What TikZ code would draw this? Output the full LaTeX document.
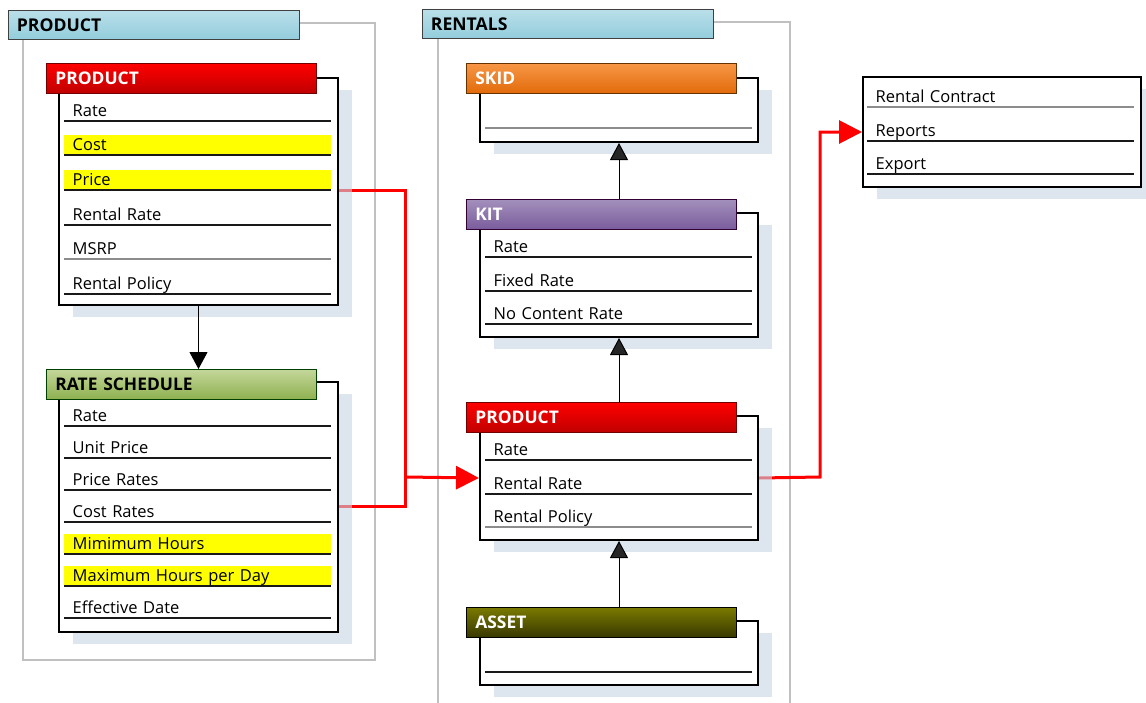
\documentclass[tikz,border=0pt]{standalone}
\usepackage{fontspec}
\setmainfont{Open Sans}
\usetikzlibrary{arrows.meta,shadows,calc}

\definecolor{grpTop}{HTML}{B9DFE9}
\definecolor{grpBot}{HTML}{93CDDC}
\definecolor{frameGray}{HTML}{C0C0C0}
\definecolor{shadowBlue}{HTML}{C6D4E4}
\definecolor{hlYellow}{HTML}{FFFF00}
\definecolor{redTop}{HTML}{FF0000}
\definecolor{redBot}{HTML}{C00000}
\definecolor{greenTop}{HTML}{C4D79B}
\definecolor{greenBot}{HTML}{8EB04F}
\definecolor{orangeTop}{HTML}{F79646}
\definecolor{orangeBot}{HTML}{E26B0A}
\definecolor{purpleTop}{HTML}{A390BC}
\definecolor{purpleBot}{HTML}{7A5C9C}
\definecolor{oliveTop}{HTML}{7A7A00}
\definecolor{oliveBot}{HTML}{383800}
\definecolor{relRed}{HTML}{FF0000}

\pgfdeclarelayer{background}
\pgfsetlayers{background,main}

\begin{document}
\begin{tikzpicture}[x=1pt, y=-1pt,
    every node/.style={font=\fontsize{16.5}{19}\selectfont, inner sep=0pt},
    grpframe/.style={draw=frameGray, line width=1.6pt},
    grphead/.style={draw=black!75, line width=0.8pt, top color=grpTop, bottom color=grpBot, anchor=north west,
      minimum height=29pt, text width=274pt, inner xsep=8.5pt, text height=12.5pt, text depth=0pt,
      font=\fontsize{17.6}{20}\selectfont\bfseries},
    enthead/.style n args={3}{draw=#3, line width=0.8pt, top color=#1, bottom color=#2, anchor=north west,
      minimum height=30pt, text width=252pt, inner xsep=9pt, text height=12.5pt, text depth=0pt, text=white,
      font=\fontsize{17.4}{20}\selectfont\bfseries},
    entbody/.style={draw=black, line width=2pt, fill=white, anchor=north west,
      drop shadow={fill=shadowBlue, opacity=0.6, shadow xshift=14pt, shadow yshift=-12pt}},
    rowbase/.style={anchor=south west, text width=250pt, inner xsep=8.5pt, inner ysep=2.5pt,
      text height=13pt, text depth=2pt},
    row/.style={rowbase, append after command={(\tikzlastnode.south west) edge[rowline] (\tikzlastnode.south east)}},
    rowgray/.style={rowbase, append after command={(\tikzlastnode.south west) edge[rowline, draw=black!45] (\tikzlastnode.south east)}},
    rowline/.style={draw=black!90, line width=1.1pt},
    hilite/.style={fill=hlYellow},
    isa/.style={line width=1pt, -{Triangle[width=18pt, length=17pt, fill=black!85]}},
    flow/.style={line width=1pt, -{Triangle[width=18pt, length=17pt]}},
    relation/.style={draw=relRed, line width=3pt},
    relarrow/.style={relation, -{Triangle[width=23pt, length=23pt]}}]

    \useasboundingbox (0,0) rectangle (1146,702);

    % Group: PRODUCT
    \node[grphead] (grpProduct) at (8,10) {PRODUCT};

    % PRODUCT entity
    \node[entbody, minimum width=279pt, minimum height=227pt] (prodBody) at (58,77) {};
    \node[enthead={redTop}{redBot}{red!45!black}] (prodHead) at (46,63) {PRODUCT};
    \node[row] (prodRate) at (64,121) {Rate};
    \node[row, hilite] (prodCost) at (64,155) {Cost};
    \node[row, hilite] (prodPrice) at (64,190) {Price};
    \node[row] (prodRentalRate) at (64,225) {Rental Rate};
    \node[rowgray] (prodMSRP) at (64,259) {MSRP};
    \node[row] (prodPolicy) at (64,294) {Rental Policy};

    % RATE SCHEDULE entity
    \node[entbody, minimum width=279pt, minimum height=250pt] (rsBody) at (58,381) {};
    \node[enthead={greenTop}{greenBot}{green!25!black}, text=black] (rsHead) at (46,369) {RATE SCHEDULE};
    \node[row] (rsRate) at (64,426) {Rate};
    \node[row] (rsUnitPrice) at (64,458) {Unit Price};
    \node[row] (rsPriceRates) at (64,490) {Price Rates};
    \node[row] (rsCostRates) at (64,522) {Cost Rates};
    \node[row, hilite] (rsMinHours) at (64,554) {Mimimum Hours};
    \node[row, hilite] (rsMaxHours) at (64,586) {Maximum Hours per Day};
    \node[row] (rsEffDate) at (64,618) {Effective Date};

    \draw[flow] (prodBody.south) -- (prodBody.south |- rsHead.north);

    % Group: RENTALS
    \node[grphead] (grpRentals) at (422,9) {RENTALS};

    % SKID entity
    \node[entbody, minimum width=278pt, minimum height=64pt] (skidBody) at (479,77) {};
    \node[enthead={orangeTop}{orangeBot}{orange!40!black}] (skidHead) at (466,63) {SKID};
    \node[rowgray] (skidRow) at (485,128) {};

    % KIT entity
    \node[entbody, minimum width=278pt, minimum height=124pt] (kitBody) at (479,212) {};
    \node[enthead={purpleTop}{purpleBot}{violet!40!black}] (kitHead) at (466,199) {KIT};
    \node[row] (kitRate) at (485,257) {Rate};
    \node[row] (kitFixed) at (485,291) {Fixed Rate};
    \node[row] (kitNoContent) at (485,324) {No Content Rate};

    % PRODUCT entity (rentals)
    \node[entbody, minimum width=278pt, minimum height=124pt] (rprodBody) at (479,415) {};
    \node[enthead={redTop}{redBot}{red!45!black}] (rprodHead) at (466,402) {PRODUCT};
    \node[row] (rprodRate) at (485,460) {Rate};
    \node[row] (rprodRentalRate) at (485,494) {Rental Rate};
    \node[rowgray] (rprodPolicy) at (485,527) {Rental Policy};

    % ASSET entity
    \node[entbody, minimum width=278pt, minimum height=64pt] (assetBody) at (479,620) {};
    \node[enthead={oliveTop}{oliveBot}{black}] (assetHead) at (466,607) {ASSET};
    \node[row] (assetRow) at (485,672) {};

    % inheritance
    \draw[isa] (kitBody.center |- kitHead.north) -- (skidBody.south);
    \draw[isa] (rprodBody.center |- rprodHead.north) -- (kitBody.south);
    \draw[isa] (assetBody.center |- assetHead.north) -- (rprodBody.south);

    % Output box
    \node[entbody, minimum width=278pt, minimum height=110pt] (outBody) at (862,76) {};
    \node[rowgray] (outContract) at (867,107) {Rental Contract};
    \node[row] (outReports) at (867,141) {Reports};
    \node[row] (outExport) at (867,174) {Export};

    \begin{pgfonlayer}{background}
        % group frames
        \draw[grpframe] (23,23) rectangle (375,660);
        \draw[grpframe] (438,22) rectangle (790,720);

        % relations
        \coordinate (joinPrice) at (405,477);
        \coordinate (bendOut) at (820,477);
        \draw[relation] (prodBody.east |- prodPrice.south) -| (joinPrice);
        \draw[relation] ($(rsBody.east |- rsCostRates.south)+(0,-16)$) -| (joinPrice);
        \draw[relarrow] (joinPrice) -- (rprodBody.west);
        \draw[relarrow] (rprodBody.east) -- (bendOut) |- (outBody.west);
    \end{pgfonlayer}
\end{tikzpicture}
\end{document}
